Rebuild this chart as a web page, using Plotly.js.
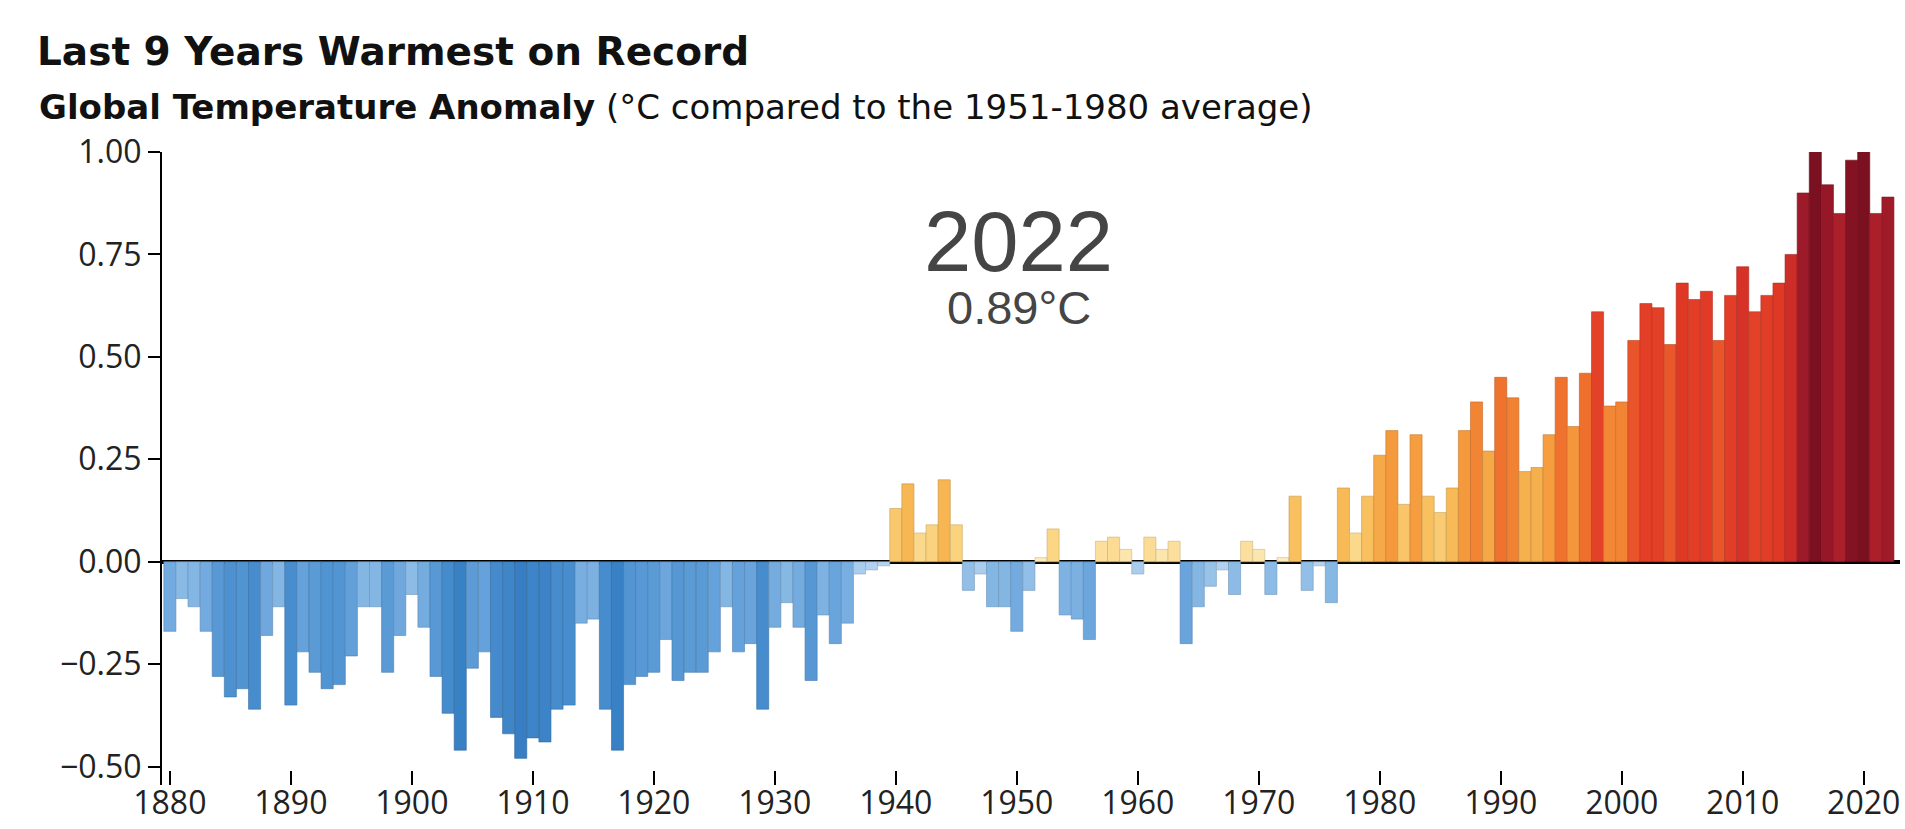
<!DOCTYPE html>
<html>
<head>
<meta charset="utf-8">
<script src="https://cdn.plot.ly/plotly-3.0.1.min.js"></script>
<style>
html,body{margin:0;padding:0;background:#ffffff;}
#chart{width:1905px;height:829px;}
</style>
</head>
<body>
<div id="chart"></div>
<script>
// ---------- DATA ----------
const years = [
  1880,1881,1882,1883,1884,1885,1886,1887,1888,1889,
  1890,1891,1892,1893,1894,1895,1896,1897,1898,1899,
  1900,1901,1902,1903,1904,1905,1906,1907,1908,1909,
  1910,1911,1912,1913,1914,1915,1916,1917,1918,1919,
  1920,1921,1922,1923,1924,1925,1926,1927,1928,1929,
  1930,1931,1932,1933,1934,1935,1936,1937,1938,1939,
  1940,1941,1942,1943,1944,1945,1946,1947,1948,1949,
  1950,1951,1952,1953,1954,1955,1956,1957,1958,1959,
  1960,1961,1962,1963,1964,1965,1966,1967,1968,1969,
  1970,1971,1972,1973,1974,1975,1976,1977,1978,1979,
  1980,1981,1982,1983,1984,1985,1986,1987,1988,1989,
  1990,1991,1992,1993,1994,1995,1996,1997,1998,1999,
  2000,2001,2002,2003,2004,2005,2006,2007,2008,2009,
  2010,2011,2012,2013,2014,2015,2016,2017,2018,2019,
  2020,2021,2022
];
const anomalies = [
  -0.17,-0.09,-0.11,-0.17,-0.28,-0.33,-0.31,-0.36,-0.18,-0.11,
  -0.35,-0.22,-0.27,-0.31,-0.30,-0.23,-0.11,-0.11,-0.27,-0.18,
  -0.08,-0.16,-0.28,-0.37,-0.46,-0.26,-0.22,-0.38,-0.42,-0.48,
  -0.43,-0.44,-0.36,-0.35,-0.15,-0.14,-0.36,-0.46,-0.30,-0.28,
  -0.27,-0.19,-0.29,-0.27,-0.27,-0.22,-0.11,-0.22,-0.20,-0.36,
  -0.16,-0.10,-0.16,-0.29,-0.13,-0.20,-0.15,-0.03,-0.02,-0.01,
   0.13, 0.19, 0.07, 0.09, 0.20, 0.09,-0.07,-0.03,-0.11,-0.11,
  -0.17,-0.07, 0.01, 0.08,-0.13,-0.14,-0.19, 0.05, 0.06, 0.03,
  -0.03, 0.06, 0.03, 0.05,-0.20,-0.11,-0.06,-0.02,-0.08, 0.05,
   0.03,-0.08, 0.01, 0.16,-0.07,-0.01,-0.10, 0.18, 0.07, 0.16,
   0.26, 0.32, 0.14, 0.31, 0.16, 0.12, 0.18, 0.32, 0.39, 0.27,
   0.45, 0.40, 0.22, 0.23, 0.31, 0.45, 0.33, 0.46, 0.61, 0.38,
   0.39, 0.54, 0.63, 0.62, 0.53, 0.68, 0.64, 0.66, 0.54, 0.65,
   0.72, 0.61, 0.65, 0.68, 0.75, 0.90, 1.01, 0.92, 0.85, 0.98,
   1.01, 0.85, 0.89
];
const xTickVals = [1880,1890,1900,1910,1920,1930,1940,1950,1960,1970,1980,1990,2000,2010,2020];
const xTickText = ['1880','1890','1900','1910','1920','1930','1940','1950','1960','1970','1980','1990','2000','2010','2020'];
const yTickVals = [-0.5,-0.25,0,0.25,0.5,0.75,1.0];
const yTickText = ['\u22120.50','\u22120.25','0.00','0.25','0.50','0.75','1.00'];

const titleText = 'Last 9 Years Warmest on Record';
const subtitleBold = 'Global Temperature Anomaly';
const subtitleRest = ' (°C compared to the 1951-1980 average)';
const highlightYear = '2022';
const highlightValue = '0.89°C';

// ---------- STYLE ----------
const colorStops = [
  [-0.50,[52,124,194]],
  [-0.35,[72,142,206]],
  [-0.20,[106,164,220]],
  [-0.08,[140,188,230]],
  [-0.01,[182,212,240]],
  [ 0.01,[253,236,190]],
  [ 0.08,[251,214,132]],
  [ 0.18,[247,186,86]],
  [ 0.30,[245,160,64]],
  [ 0.44,[240,118,46]],
  [ 0.58,[230,70,40]],
  [ 0.70,[222,54,38]],
  [ 0.80,[185,36,44]],
  [ 0.92,[150,24,40]],
  [ 1.01,[122,16,32]]
];
function colorFor(v, f){
  let c;
  if (v <= colorStops[0][0]) c = colorStops[0][1];
  else if (v >= colorStops[colorStops.length-1][0]) c = colorStops[colorStops.length-1][1];
  else {
    for (let i=0;i<colorStops.length-1;i++){
      const a = colorStops[i], b = colorStops[i+1];
      if (v >= a[0] && v <= b[0]){
        const t = (v-a[0])/(b[0]-a[0]);
        c = [0,1,2].map(k => a[1][k] + t*(b[1][k]-a[1][k]));
        break;
      }
    }
  }
  return 'rgb(' + c.map(x => Math.round(x*f)).join(',') + ')';
}
const barColors = anomalies.map(v => colorFor(v,1));
const edgeColors = anomalies.map(v => colorFor(v,0.8));

const W = 1905, H = 829;
const mL = 162, mR = 5, mT = 152, mB = 44;
const plotW = W - mL - mR, plotH = H - mT - mB;

const trace = {
  type: 'bar',
  x: years,
  y: anomalies,
  width: 1,
  marker: { color: barColors, line: { color: edgeColors, width: 0.6 } },
  cliponaxis: false,
  hoverinfo: 'x+y',
  showlegend: false
};

const layout = {
  width: W, height: H,
  paper_bgcolor: '#ffffff',
  plot_bgcolor: '#ffffff',
  margin: { l: mL, r: mR, t: mT, b: mB, pad: 0 },
  bargap: 0,
  showlegend: false,
  title: {
    text: titleText,
    font: { family: 'DejaVu Sans', size: 39, color: '#111111', weight: 700 },
    xref: 'container', yref: 'container',
    x: 37 / W, xanchor: 'left',
    y: 1 - 51 / H, yanchor: 'middle'
  },
  xaxis: {
    range: [1879.35, 2023.0],
    showline: false,
    showgrid: false,
    zeroline: false,
    ticks: 'inside',
    ticklen: 14,
    tickwidth: 2,
    tickcolor: '#000000',
    tickvals: xTickVals,
    ticktext: xTickText,
    tickfont: { family: 'Open Sans', size: 32, color: '#222222' },
    ticklabelstandoff: -4,
    fixedrange: true
  },
  yaxis: {
    range: [-0.545, 1.0],
    showline: true,
    linecolor: '#000000',
    linewidth: 2,
    showgrid: false,
    zeroline: true,
    zerolinecolor: '#000000',
    zerolinewidth: 4,
    ticks: 'outside',
    ticklen: 12,
    tickwidth: 2,
    tickcolor: '#000000',
    tickvals: yTickVals,
    ticktext: yTickText,
    tickfont: { family: 'Open Sans', size: 32, color: '#222222' },
    layer: 'above traces',
    fixedrange: true
  },
  annotations: [
    {
      text: '<b>' + subtitleBold + '</b>' + subtitleRest,
      xref: 'paper', yref: 'paper',
      x: (37 - mL) / plotW, xanchor: 'left',
      y: (H - mB - 107) / plotH, yanchor: 'middle',
      showarrow: false,
      font: { family: 'DejaVu Sans', size: 34, color: '#111111' }
    },
    {
      text: highlightYear,
      xref: 'paper', yref: 'paper',
      x: (1018 - mL) / plotW, xanchor: 'center',
      y: (H - mB - 241) / plotH, yanchor: 'middle',
      showarrow: false,
      font: { family: 'Liberation Sans', size: 85, color: '#454545' }
    },
    {
      text: highlightValue,
      xref: 'paper', yref: 'paper',
      x: (1019 - mL) / plotW, xanchor: 'center',
      y: (H - mB - 307) / plotH, yanchor: 'middle',
      showarrow: false,
      font: { family: 'Liberation Sans', size: 47, color: '#454545' }
    }
  ]
};

Plotly.newPlot('chart', [trace], layout, { displayModeBar: false, staticPlot: true });
</script>
</body>
</html>
